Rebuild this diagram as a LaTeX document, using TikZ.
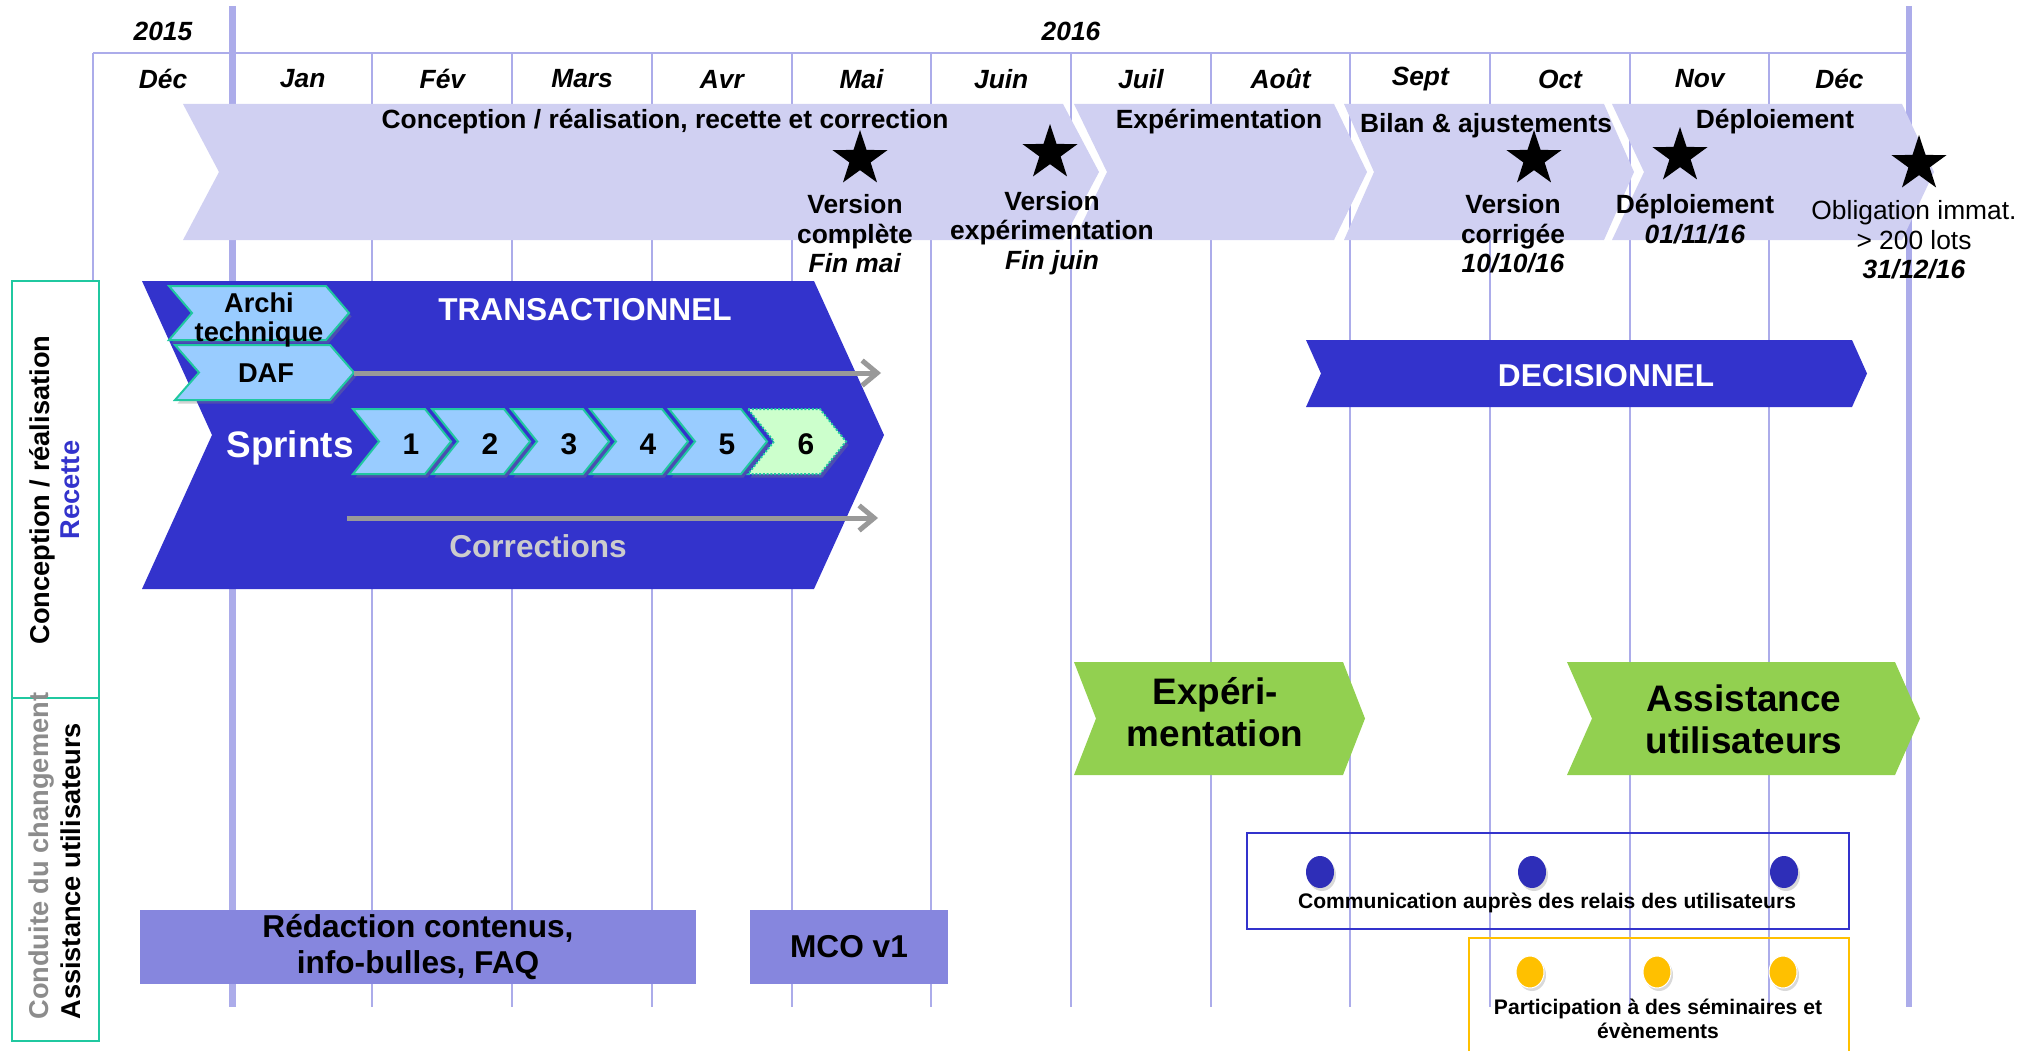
\documentclass[tikz,border=0pt]{standalone}
\usepackage{fontspec}
\setmainfont{Liberation Sans}
\usepackage{tikz}
\usetikzlibrary{arrows.meta}
\usetikzlibrary{shapes.geometric}
\usetikzlibrary{shadows}

\definecolor{gridline}{RGB}{172,172,234}
\definecolor{banner}{RGB}{208,208,242}
\definecolor{darkblue}{RGB}{51,51,204}
\definecolor{skyblue}{RGB}{153,204,255}
\definecolor{mint}{RGB}{204,255,204}
\definecolor{edgeteal}{RGB}{32,200,160}
\definecolor{leafgreen}{RGB}{146,208,80}
\definecolor{lavender}{RGB}{134,134,222}
\definecolor{dotblue}{RGB}{46,46,184}
\definecolor{amber}{RGB}{255,192,0}
\definecolor{softgray}{RGB}{153,153,153}
\definecolor{lanegray}{RGB}{140,140,140}
\definecolor{paletext}{RGB}{204,204,204}

\newcommand{\drawchevron}[6]{   % style, xl, yt, xr, yb, depth
	\path[#1] (#2,#3) -- (#4,#3) -- ({#4+#6},{(#3+#5)/2}) -- (#4,#5) -- (#2,#5) -- ({#2+#6},{(#3+#5)/2}) -- cycle;
}

\tikzset{
	gridthin/.style={draw=gridline, line width=0.04cm},
	gridthick/.style={draw=gridline, line width=0.13cm},
	month/.style={font=\bfseries\itshape\fontsize{15}{17}\selectfont, inner sep=0pt},
	phase/.style={font=\bfseries\fontsize{15}{17}\selectfont, inner sep=0pt},
	milestone/.style={font=\bfseries\fontsize{15}{16.8}\selectfont, align=center, inner sep=0pt},
	mstar/.style={star, star points=5, star point ratio=2.6, fill=black, minimum size=1.16cm, inner sep=0pt},
	bannerbox/.style={fill=banner},
	bigbox/.style={fill=darkblue},
	smallbox/.style={fill=skyblue, draw=edgeteal, line width=0.04cm,
		drop shadow={shadow xshift=0.05cm, shadow yshift=-0.07cm, opacity=0.35}},
	greenbox/.style={fill=leafgreen},
	laneframe/.style={fill=white, draw=edgeteal, line width=0.04cm},
	lanetext/.style={font=\bfseries\fontsize{15.5}{17}\selectfont, rotate=90, inner sep=0pt},
	bigtext/.style={font=\bfseries\fontsize{18}{20}\selectfont, text=white, inner sep=0pt},
	smalltext/.style={font=\bfseries\fontsize{15.5}{17}\selectfont, align=center, inner sep=0pt},
	sprintnum/.style={font=\bfseries\fontsize{17}{19}\selectfont, inner sep=0pt},
	greentext/.style={font=\bfseries\fontsize{21}{24}\selectfont, align=center, inner sep=0pt},
	flow/.style={draw=softgray, line width=0.1cm, -{Straight Barb[length=0.3cm, width=0.5cm]}},
	taskbox/.style={fill=lavender, font=\bfseries\fontsize{18}{20}\selectfont, align=center, inner sep=0pt},
	eventframe/.style={line width=0.04cm},
	eventdot/.style={ellipse, minimum width=0.56cm, minimum height=0.64cm, inner sep=0pt,
		drop shadow={shadow xshift=0.04cm, shadow yshift=-0.06cm, opacity=0.3}},
	eventtext/.style={font=\bfseries\fontsize{12}{13.7}\selectfont, align=center, inner sep=0pt},
}

\begin{document}
\begin{tikzpicture}[x=0.02cm, y=-0.02cm]
\useasboundingbox (0,0) rectangle (2038,1051);
\clip (0,0) rectangle (2038,1051);

% grid
\draw[gridthin] (93,53) -- (1909,53);
\foreach \k in {0,2,3,...,12}
	\draw[gridthin] ({93+139.7*\k},53) -- ({93+139.7*\k},1007);
\foreach \k in {1,13}
	\draw[gridthick] ({93+139.7*\k},6) -- ({93+139.7*\k},1007);

\node[month] (year2015) at (163,31) {2015};
\node[month] (year2016) at (1071,31) {2016};
\foreach \m [count=\i from 0] in {Déc,Jan,Fév,Mars,Avr,Mai,Juin,Juil,Août,Sept,Oct,Nov,Déc}
	\node[month] (month\i) at ({163+139.7*\i},79) {\m};

% phases
\drawchevron{bannerbox}{183}{104}{1063}{240}{36}
\drawchevron{bannerbox}{1074}{104}{1334}{240}{33}
\drawchevron{bannerbox}{1344}{104}{1604}{240}{30}
\drawchevron{bannerbox}{1612}{104}{1902}{240}{32}

\node[phase] (conception) at (665,122) {Conception / réalisation, recette et correction};
\node[phase] (experim) at (1219,122) {Expérimentation};
\node[phase] (bilan) at (1486,126) {Bilan \& ajustements};
\node[phase] (deploiement) at (1775,122) {Déploiement};

% milestones
\node[mstar] (star1) at (860,159) {};
\node[mstar] (star2) at (1050,153) {};
\node[mstar] (star3) at (1534,159) {};
\node[mstar] (star4) at (1680,156) {};
\node[mstar] (star5) at (1919,164) {};

\node[milestone] (versioncomplete) at (855,234) {Version\\complète\\\textit{Fin mai}};
\node[milestone] (versionexp) at (1052,233) {Version\\expérimentation\\\textit{Fin juin}};
\node[milestone] (versioncorr) at (1513,234) {Version\\corrigée\\\textit{10/10/16}};
\node[milestone] (deploydate) at (1695,219) {Déploiement\\\textit{01/11/16}};
\node[milestone, font=\fontsize{15}{16.8}\selectfont] (obligation) at (1914,240) {Obligation immat.\\> 200 lots\\\textbf{\textit{31/12/16}}};

% lanes
\draw[laneframe] (12,281) rectangle (99,698);
\draw[laneframe] (12,698) rectangle (99,1041);
\node[lanetext] (lane1a) at (42,490) {Conception / réalisation};
\node[lanetext, text=darkblue] (lane1b) at (70,490) {Recette};
\node[lanetext, text=lanegray, anchor=west] (lane2a) at (42,1020) {Conduite du changement};
\node[lanetext, anchor=west] (lane2b) at (71,1020) {Assistance utilisateurs};

% transactionnel
\drawchevron{bigbox}{142}{281}{814}{589}{70}
\drawchevron{smallbox}{169}{286}{326}{340}{23}
\drawchevron{smallbox}{175}{345}{330}{400}{24}
\foreach \s in {0,...,4} {
	\pgfmathsetmacro{\sxl}{353+79*\s}
	\pgfmathsetmacro{\sxr}{\sxl+72}
	\drawchevron{smallbox}{\sxl}{409}{\sxr}{474}{26}
}
\drawchevron{smallbox, fill=mint, densely dotted}{748}{409}{820}{474}{26}

\node[bigtext] (transac) at (585,310) {TRANSACTIONNEL};
\node[smalltext] (archi) at (259,320) {Archi\\technique};
\node[smalltext] (daf) at (266,373) {DAF};
\node[bigtext, font=\bfseries\fontsize{21}{23}\selectfont] (sprints) at (290,448) {Sprints};
\foreach \s in {1,...,6}
	\node[sprintnum] (sprint\s) at ({353+79*(\s-1)+58},444) {\s};

\coordinate (daftip) at (354,373);
\coordinate (dafend) at (881,373);
\draw[flow] (daftip) -- (dafend);
\coordinate (corstart) at (347,518);
\coordinate (corend) at (878,518);
\draw[flow] (corstart) -- (corend);
\node[bigtext, text=paletext] (corrections) at (538,546) {Corrections};

% decisionnel
\drawchevron{bigbox}{1306}{340}{1852}{407}{15}
\node[bigtext] (decision) at (1606,376) {DECISIONNEL};

% accompagnement
\drawchevron{greenbox}{1074}{662}{1343}{775}{22}
\node[greentext] (experimentation) at (1215,712) {Expéri-\\mentation};
\drawchevron{greenbox}{1567}{662}{1895}{775}{25}
\node[greentext] (assistance) at (1744,719) {Assistance\\utilisateurs};

\node[taskbox, minimum width=11.14cm, minimum height=1.48cm] (redaction) at (418,947) {Rédaction contenus,\\info-bulles, FAQ};
\node[taskbox, minimum width=3.98cm, minimum height=1.48cm] (mco) at (849,947) {MCO v1};

% communication
\draw[eventframe, draw=darkblue] (1247,833) rectangle (1849,929);
\foreach \x [count=\i] in {1320,1532,1784}
	\node[eventdot, fill=dotblue] (comm\i) at (\x,872) {};
\node[eventtext] (commtext) at (1547,903) {Communication auprès des relais des utilisateurs};

\draw[eventframe, draw=amber] (1469,938) rectangle (1849,1070);
\foreach \x [count=\i] in {1530,1657,1783}
	\node[eventdot, fill=amber, draw=white, line width=0.02cm] (part\i) at (\x,972) {};
\node[eventtext] (parttext) at (1658,1019) {Participation à des séminaires et\\évènements};
\end{tikzpicture}
\end{document}
